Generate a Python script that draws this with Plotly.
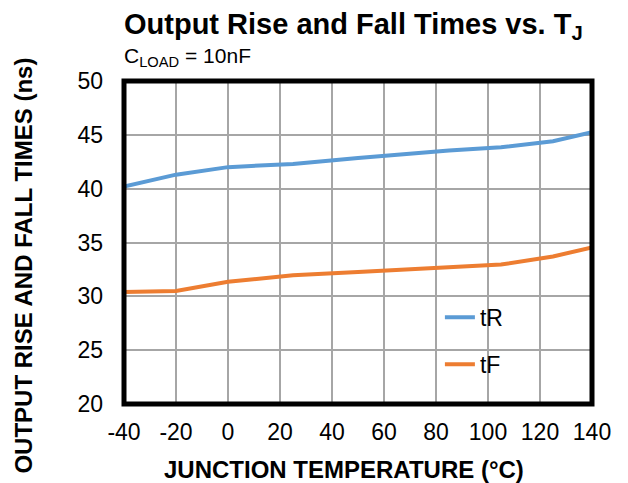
import plotly.graph_objects as go

temps = [-40, -20, 0, 25, 50, 85, 105, 125, 140]
t_rise = [40.2, 41.3, 42.0, 42.3, 42.85, 43.55, 43.85, 44.4, 45.25]
t_fall = [30.4, 30.5, 31.35, 31.95, 32.25, 32.7, 32.95, 33.7, 34.55]

x_ticks = [-40, -20, 0, 20, 40, 60, 80, 100, 120, 140]
x_tick_text = ["-40", "-20", "0", "20", "40", "60", "80", "100", "120", "140"]
y_ticks = [20, 25, 30, 35, 40, 45, 50]

FONT = "Liberation Sans, Arial, sans-serif"

fig = go.Figure()
fig.add_trace(go.Scatter(x=temps, y=t_rise, mode="lines", name="tR",
                         line=dict(color="#5B9BD5", width=4), legendgroup="a"))
fig.add_trace(go.Scatter(x=temps, y=t_fall, mode="lines", name="tF",
                         line=dict(color="#ED7D31", width=4), legendgroup="b"))

fig.update_layout(
    width=628, height=483,
    margin=dict(l=124, r=36, t=81, b=79),
    paper_bgcolor="white", plot_bgcolor="white",
    font=dict(family=FONT, size=23, color="black"),
    showlegend=True,
    legend=dict(x=0.675, y=0.335, xanchor="left", yanchor="top",
                bgcolor="rgba(0,0,0,0)", font=dict(size=23),
                tracegroupgap=14, traceorder="grouped"),
    xaxis=dict(range=[-40, 140], tickvals=x_ticks, ticktext=x_tick_text,
               showgrid=True, gridcolor="#A6A6A6", gridwidth=1.5,
               zeroline=False, showline=False, ticks="",
               ticklabelstandoff=12, tickfont=dict(size=23)),
    yaxis=dict(range=[20, 50], tickvals=y_ticks, showgrid=True,
               gridcolor="#A6A6A6", gridwidth=1.5, zeroline=False,
               showline=False, ticks="", ticklabelstandoff=20,
               tickfont=dict(size=23)),
    shapes=[
        dict(type="rect", xref="paper", yref="paper", x0=0.556, x1=0.893,
             y0=0.06, y1=0.34, fillcolor="white", line=dict(width=0),
             layer="between"),
        dict(type="rect", xref="paper", yref="paper", x0=0, x1=1, y0=0, y1=1,
             line=dict(color="black", width=5), layer="above"),
    ],
    annotations=[
        dict(text="<b>Output Rise and Fall Times vs. T<sub>J</sub></b>",
             xref="paper", yref="paper", x=-0.005, y=1.0, yshift=75,
             xanchor="left", yanchor="top", showarrow=False,
             font=dict(size=29, family=FONT)),
        dict(text="C<sub>LOAD</sub> = 10nF",
             xref="paper", yref="paper", x=-0.005, y=1.0, yshift=39,
             xanchor="left", yanchor="top", showarrow=False,
             font=dict(size=21, family=FONT)),
        dict(text="<b>JUNCTION TEMPERATURE (°C)</b>",
             xref="paper", yref="paper", x=0.5, xshift=-14, y=0, yshift=-50,
             xanchor="center", yanchor="top", showarrow=False,
             font=dict(size=24, family=FONT)),
        dict(text="<b>OUTPUT RISE AND FALL TIMES (ns)</b>",
             xref="paper", yref="paper", x=0, xshift=-116, y=0.427,
             xanchor="left", yanchor="middle", textangle=-90, showarrow=False,
             font=dict(size=24, family=FONT)),
    ],
)

fig.write_html("out.html",
               config={"displayModeBar": False},
               post_script="document.body.style.margin='0';document.body.style.overflow='hidden';")
